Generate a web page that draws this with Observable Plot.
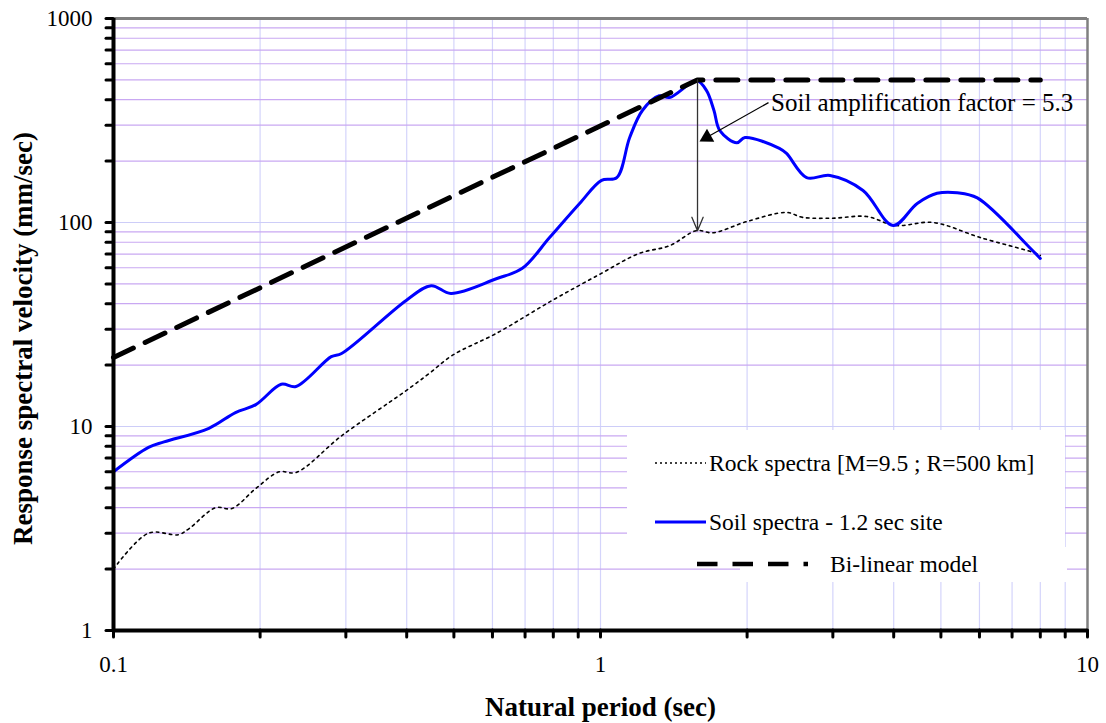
<!DOCTYPE html>
<html><head><meta charset="utf-8">
<script src="https://cdn.jsdelivr.net/npm/d3@7"></script>
<script src="https://cdn.jsdelivr.net/npm/@observablehq/plot@0.6"></script>
<style>
body{margin:0;background:#fff;overflow:hidden;}
svg{font-family:"Liberation Serif","Times New Roman",serif;}
</style>
</head><body><div id="chart"></div>
<script>
// ---- data ----
const soilPeriod   = [0.100,0.118,0.127,0.157,0.178,0.196,0.221,0.237,0.280,0.294,0.399,0.449,0.493,0.611,0.691,0.786,0.906,1.005,1.08,1.148,1.22,1.32,1.387,1.576,1.65,1.71,1.758,1.905,1.98,2.33,2.41,2.65,2.96,3.46,3.99,4.47,4.91,5.4,5.94,7.64,8.0];
const soilVelocity = [6.0,7.9,8.4,9.8,11.7,12.8,16.1,15.7,22.0,22.8,41.5,49,44.9,53,59.6,84.4,124,161,166,261,355,418,410,495,444,354,282,246,261,231,218,166,170,143.6,96.7,124,139,140,132,74.6,66.6];
const rockPeriod   = [0.100,0.118,0.136,0.143,0.162,0.175,0.196,0.219,0.237,0.294,0.399,0.445,0.496,0.611,0.796,1.0,1.2,1.387,1.576,1.70,1.996,2.41,2.6,3.0,3.52,4.03,4.82,6.02,7.74,8.0];
const rockVelocity = [2.0,3.0,2.95,3.16,4.0,3.96,4.97,6.0,5.95,9.0,15.0,18.2,22.3,28.6,41.5,56,70.5,77,91.3,89,101,112,106,105,107,96.7,100,84.4,71.3,69];
const bilinearPeriod   = [0.1,1.58,8.0];
const bilinearVelocity = [21.8,500,500];

const xDecades = [0.1,1,10];
const yDecades = [1,10,100,1000];
const xMinor = [0.2,0.3,0.4,0.5,0.6,0.7,0.8,0.9,2,3,4,5,6,7,8,9];
const yMinor = [2,3,4,5,6,7,8,9,20,30,40,50,60,70,80,90,200,300,400,500,600,700,800,900];

const seriesNames = ["Rock spectra [M=9.5 ; R=500 km]","Soil spectra - 1.2 sec site","Bi-linear model"];
const annotationText = "Soil amplification factor = 5.3";
const xTitle = "Natural period (sec)";
const yTitle = "Response spectral velocity (mm/sec)";

const soil = soilPeriod.map((t,i)=>({t, v:soilVelocity[i]}));
const rock = rockPeriod.map((t,i)=>({t, v:rockVelocity[i]}));
const bilinear = bilinearPeriod.map((t,i)=>({t, v:bilinearVelocity[i]}));

const FONT = '"Liberation Serif","Times New Roman",serif';

const plot = Plot.plot({
  width:1106, height:723,
  marginLeft:113, marginRight:19, marginTop:18, marginBottom:93,
  style:{fontFamily:FONT, background:"white", color:"black"},
  x:{type:"log", domain:[0.1,10], label:null},
  y:{type:"log", domain:[1,1000], label:null},
  marks:[
    Plot.ruleX(xMinor.concat([1]), {stroke:"#d4d4fb", strokeWidth:1.2}),
    Plot.ruleY(yMinor, {stroke:"#c9a8f2", strokeWidth:1.2}),
    Plot.ruleY([10,100], {stroke:"#cdcdf8", strokeWidth:1.2}),
    Plot.ruleY([1000], {stroke:"#808080", strokeWidth:3}),
    Plot.ruleX([10], {stroke:"#808080", strokeWidth:2.5}),
    Plot.line(rock, {x:"t", y:"v", stroke:"black", strokeWidth:1.6, strokeDasharray:"2.5,4", curve:"catmull-rom"}),
    Plot.line(soil, {x:"t", y:"v", stroke:"#0000ff", strokeWidth:3, curve:"catmull-rom"}),
    Plot.line(bilinear, {x:"t", y:"v", stroke:"black", strokeWidth:5, strokeDasharray:"22,13"}),
    Plot.arrow([{x1:1.582,y1:500,x2:1.582,y2:91}], {x1:"x1",y1:"y1",x2:"x2",y2:"y2", stroke:"#333", strokeWidth:1.3, headLength:17, headAngle:45}),
    Plot.link([{x1:2.213,y1:387,x2:1.654,y2:261.6}], {x1:"x1",y1:"y1",x2:"x2",y2:"y2", stroke:"black", strokeWidth:1.2}),
    Plot.dot([{x:1.654,y:261.6}], {x:"x", y:"y", symbol:"triangle", r:5.5, rotate:240.5, fill:"black", stroke:null}),
    Plot.text([annotationText], {x:2.24, y:387, text:d=>d, textAnchor:"start", lineAnchor:"middle", fontSize:25, fill:"black"}),
    Plot.ruleX([0.1], {stroke:"black", strokeWidth:4}),
    Plot.ruleY([1], {stroke:"black", strokeWidth:4}),
    Plot.axisX(xDecades.concat(xMinor), {tickSize:7, strokeWidth:3, strokeLinecap:"round", tickFormat:()=>"", label:null}),
    Plot.axisY(yDecades.concat(yMinor), {tickSize:7, strokeWidth:3, strokeLinecap:"round", tickFormat:()=>"", label:null}),
    Plot.text(xDecades, {x:d=>d, frameAnchor:"bottom", dy:34, text:d=>String(d), fontSize:23, textAnchor:"middle", lineAnchor:"middle", fill:"black"}),
    Plot.text(yDecades, {y:d=>d, frameAnchor:"left", dx:-21, text:d=>String(d), fontSize:23, textAnchor:"end", lineAnchor:"middle", fill:"black"}),
    Plot.text([xTitle], {frameAnchor:"bottom", dy:77, text:d=>d, fontSize:27, fontWeight:"bold", textAnchor:"middle", lineAnchor:"middle", fill:"black"}),
    Plot.text([yTitle], {frameAnchor:"left", dx:-90, dy:14, rotate:-90, text:d=>d, fontSize:27, fontWeight:"bold", textAnchor:"middle", lineAnchor:"middle", fill:"black"})
  ]
});

// ---- legend (inside plot area) ----
const svg = d3.select(plot);
const lg = svg.append("g").attr("font-family", FONT).attr("font-size", 23.5).attr("text-anchor","start");
lg.append("rect").attr("x",627).attr("y",430).attr("width",438).attr("height",118).attr("fill","white");
lg.append("rect").attr("x",740).attr("y",547).attr("width",327).attr("height",35).attr("fill","white");
const items = [
  {y:463, x1:655, x2:706, stroke:"black", w:1.4, dash:"2,3", tx:709},
  {y:522, x1:655, x2:706, stroke:"#0000ff", w:3, dash:null, tx:709},
  {y:564, x1:697, x2:808, stroke:"black", w:4.5, dash:"20.5,15", tx:830}
];
items.forEach((it,i)=>{
  const l = lg.append("line").attr("x1",it.x1).attr("x2",it.x2).attr("y1",it.y).attr("y2",it.y)
    .attr("stroke",it.stroke).attr("stroke-width",it.w);
  if (it.dash) l.attr("stroke-dasharray", it.dash);
  lg.append("text").attr("x",it.tx).attr("y",it.y).attr("dy","0.35em").attr("fill","black")
    .attr("text-anchor","start").text(seriesNames[i]);
});

document.getElementById("chart").appendChild(plot);
</script>
</body></html>
